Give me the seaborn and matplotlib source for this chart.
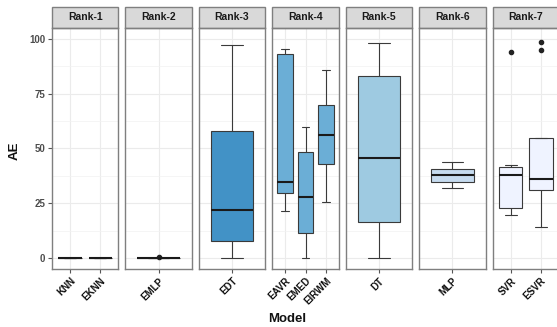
import pandas as pd
import numpy as np
import matplotlib.pyplot as plt
import matplotlib
import seaborn as sns
from matplotlib.patches import Rectangle

sns.set_theme(style="white")
matplotlib.rcParams["font.family"] = ["Liberation Sans", "DejaVu Sans"]
matplotlib.rcParams["figure.dpi"] = 100

ranks = ["Rank-1", "Rank-2", "Rank-3", "Rank-4", "Rank-5", "Rank-6", "Rank-7"]
rank_models = {
    "Rank-1": ["KNN", "EKNN"],
    "Rank-2": ["EMLP"],
    "Rank-3": ["EDT"],
    "Rank-4": ["EAVR", "EMED", "EIRWM"],
    "Rank-5": ["DT"],
    "Rank-6": ["MLP"],
    "Rank-7": ["SVR", "ESVR"],
}
tick_labels = {"EMLP": "EMLP", "EIRWM": "EIRWM", "MLP": "MLP"}
rank_colors = ["#084594", "#2171B5", "#4292C6", "#6BAED6", "#9ECAE1", "#C6DBEF", "#EFF3FF"]

knn = [0, 0, 0, 0, 0]
eknn = [0, 0, 0, 0, 0]
emlp = [0, 0, 0, 0, 0, 0, 0, 0, 0.3]
edt = [0, 7.8, 21.9, 58, 97]
eavr = [21.6, 29.5, 34.6, 93.1, 95.5]
emed = [0, 11.6, 27.6, 48.5, 59.9]
eirwm = [25.5, 42.8, 56.1, 69.6, 85.7]
dt = [0, 16.6, 45.5, 82.8, 98.1]
mlp = [31.7, 34.5, 38, 40.8, 44]
svr = [19.8, 22.8, 22.8, 37.8, 37.8, 41.6, 41.6, 42.5, 93.7]
esvr = [14, 31, 31, 36, 36, 54.5, 54.5, 94.8, 98.3]

values = {"KNN": knn, "EKNN": eknn, "EMLP": emlp, "EDT": edt, "EAVR": eavr,
          "EMED": emed, "EIRWM": eirwm, "DT": dt, "MLP": mlp, "SVR": svr, "ESVR": esvr}

rows = []
for r in ranks:
    for m in rank_models[r]:
        for v in values[m]:
            rows.append({"Rank": r, "Model": m, "AE": v})
df = pd.DataFrame(rows)

W, H = 557, 327
fig = plt.figure(figsize=(W / 100, H / 100), dpi=100)

p_left, p_step, p_w = 52, 73.45, 66.3
p_top, p_bot = 27.7, 269
strip_h = 20.7
border = "#7F7F7F"

for i, r in enumerate(ranks):
    ax = fig.add_axes([(p_left + i * p_step) / W, 1 - p_bot / H, p_w / W, (p_bot - p_top) / H])
    models = rank_models[r]
    sub = df[df["Rank"] == r]
    sns.boxplot(data=sub, x="Model", y="AE", order=models, color=rank_colors[i], saturation=1,
                width=0.77, linecolor="#3a3a3a", linewidth=0.8, fliersize=3, ax=ax,
                medianprops={"color": "#1a1a1a", "linewidth": 1.5},
                flierprops={"marker": "o", "markerfacecolor": "#222222",
                            "markeredgecolor": "#222222", "markersize": 3})
    n = len(models)
    ax.set_xlim(-0.6, n - 0.4)
    ax.set_ylim(-5, 105)
    ax.set_yticks([0, 25, 50, 75, 100])
    ax.set_yticks([12.5, 37.5, 62.5, 87.5], minor=True)
    ax.grid(True, which="major", color="#EBEBEB", linewidth=0.8)
    ax.grid(True, which="minor", axis="y", color="#F2F2F2", linewidth=0.5)
    ax.set_axisbelow(True)
    for sp in ax.spines.values():
        sp.set_color(border)
        sp.set_linewidth(1)
    ax.set_xticks(range(n))
    ax.set_xticklabels([tick_labels.get(m, m) for m in models], rotation=45, ha="right",
                       rotation_mode="anchor", fontsize=7, fontweight="bold", color="#111111")
    ax.tick_params(axis="x", which="major", length=3, width=0.8, color="#555555", pad=2, bottom=True)
    ax.set_xlabel("")
    ax.set_ylabel("")
    if i == 0:
        ax.tick_params(axis="y", which="major", length=3, width=0.8, color="#555555", pad=2,
                       left=True, labelsize=7, labelcolor="#4D4D4D")
        for t in ax.get_yticklabels():
            t.set_fontweight("bold")
    else:
        ax.tick_params(axis="y", which="both", left=False, labelleft=False)
    ax.tick_params(axis="y", which="minor", left=False)

    sh = strip_h / (p_bot - p_top)
    ax.add_patch(Rectangle((0, 1), 1, sh, transform=ax.transAxes, clip_on=False,
                           facecolor="#D9D9D9", edgecolor=border, linewidth=1))
    ax.text(0.5, 1 + sh / 2, r, transform=ax.transAxes, ha="center", va="center",
            fontsize=7.5, fontweight="bold", color="#1A1A1A")

fig.text(15 / W, 1 - 150.5 / H, "AE", rotation=90, ha="center", va="center",
         fontsize=9.5, fontweight="bold", color="#111111")
fig.text(287 / W, 1 - 319 / H, "Model", ha="center", va="center",
         fontsize=9.5, fontweight="bold", color="#111111")

fig.savefig("out.png", dpi=100)
